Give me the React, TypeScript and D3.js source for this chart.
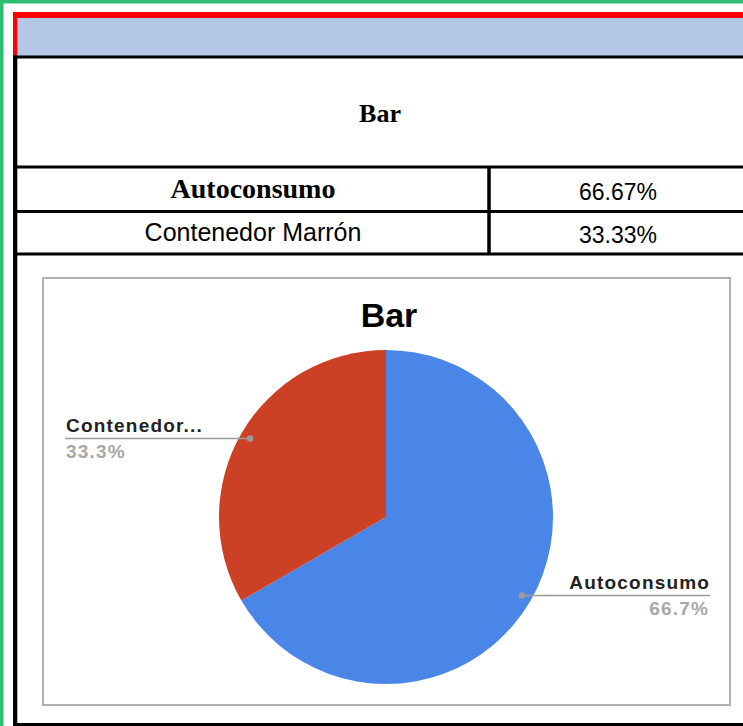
import React from "react";
import * as d3 from "d3";

const chartTitle = "Bar";
const categories = ["Autoconsumo", "Contenedor Marrón"];
const values = [66.67, 33.33];
const tableValues = ["66.67%", "33.33%"];
const sliceColors = ["#4a86e8", "#cc4125"];

const SANS = "'Liberation Sans', Arial, Helvetica, sans-serif";
const SERIF = "'Liberation Serif', 'Times New Roman', Times, serif";

function shortLabel(name: string): string {
  return name.length > 12 ? name.split(" ")[0] + "..." : name;
}

export default function App() {
  const W = 743;
  const H = 726;
  const cx = 386;
  const cy = 517;
  const r = 167;

  const total = d3.sum(values);
  const pie = d3
    .pie<number>()
    .sort(null)
    .value((d) => d)
    .startAngle(0)
    .endAngle(2 * Math.PI);
  const arcs = pie(values);
  const arcGen = d3.arc<d3.PieArcDatum<number>>().innerRadius(0).outerRadius(r);
  const dotArc = d3
    .arc<d3.PieArcDatum<number>>()
    .innerRadius(r * 0.94)
    .outerRadius(r * 0.94);
  const pct = d3.format(".1%");

  // table row geometry
  const colX = 489;
  const rowLines = [57, 167, 211.5, 254];

  return (
    <svg
      width={W}
      height={H}
      style={{ position: "absolute", left: 0, top: 0, background: "#fff" }}
    >
      {/* green frame */}
      <rect x={0} y={0} width={W} height={3.5} fill="#2dbe73" />
      <rect x={0} y={0} width={3.5} height={H} fill="#2dbe73" />

      {/* header band */}
      <rect x={17} y={18} width={W - 17} height={38} fill="#b4c7e7" />
      <rect x={13} y={12} width={W - 13} height={6} fill="#ff0000" />
      <rect x={13} y={12} width={4.3} height={44} fill="#ff0000" />

      {/* table borders */}
      <rect x={13} y={55.5} width={4.3} height={H - 55.5} fill="#000" />
      {rowLines.map((y, i) => (
        <line key={i} x1={13} x2={W} y1={y} y2={y} stroke="#000" strokeWidth={3.2} />
      ))}
      <line x1={colX} x2={colX} y1={rowLines[1]} y2={rowLines[3]} stroke="#000" strokeWidth={3.5} />
      <line x1={13} x2={W} y1={724.5} y2={724.5} stroke="#000" strokeWidth={3.2} />

      {/* table text */}
      <text x={380} y={122} textAnchor="middle" fontFamily={SERIF} fontWeight="bold" fontSize={26} fill="#000">
        {chartTitle}
      </text>
      {categories.map((c, i) => (
        <text
          key={c}
          x={253}
          y={i === 0 ? 198 : 241}
          textAnchor="middle"
          fontFamily={i === 0 ? SERIF : SANS}
          fontWeight={i === 0 ? "bold" : "normal"}
          fontSize={i === 0 ? 28 : 25}
          fill="#000"
        >
          {c}
        </text>
      ))}
      {tableValues.map((v, i) => (
        <text key={v} x={618} y={i === 0 ? 200 : 243} textAnchor="middle" fontFamily={SANS} fontSize={23} fill="#000">
          {v}
        </text>
      ))}

      {/* chart box */}
      <rect x={43} y={278} width={687} height={427} fill="#fff" stroke="#b0b0b0" strokeWidth={2} />
      <text x={389} y={327} textAnchor="middle" fontFamily={SANS} fontWeight="bold" fontSize={34} fill="#000">
        {chartTitle}
      </text>

      <g transform={`translate(${cx},${cy})`}>
        {arcs.map((a, i) => (
          <path key={i} d={arcGen(a) || ""} fill={sliceColors[i]} />
        ))}
      </g>

      {/* slice labels */}
      {arcs.map((a, i) => {
        const [dx, dy] = dotArc.centroid(a);
        const px = cx + dx;
        const py = cy + dy;
        const right = px > cx;
        const lineEnd = right ? 710 : 65;
        const tx = right ? 710.2 : 66;
        const anchor = right ? "end" : "start";
        return (
          <g key={"l" + i}>
            <line x1={px} x2={lineEnd} y1={py} y2={py} stroke="#9a9a9a" strokeWidth={1.5} />
            <circle cx={px} cy={py} r={3.2} fill="#9a9a9a" />
            <text
              x={tx}
              y={py - 6.5}
              textAnchor={anchor}
              fontFamily={SANS}
              fontWeight="bold"
              fontSize={19}
              letterSpacing={1.2}
              fill="#222"
            >
              {shortLabel(categories[i])}
            </text>
            <text
              x={tx - (right ? 1 : 0)}
              y={py + 19.5}
              textAnchor={anchor}
              fontFamily={SANS}
              fontWeight="bold"
              fontSize={19}
              letterSpacing={1.2}
              fill="#a8a8a8"
            >
              {pct(a.data / total)}
            </text>
          </g>
        );
      })}
    </svg>
  );
}
